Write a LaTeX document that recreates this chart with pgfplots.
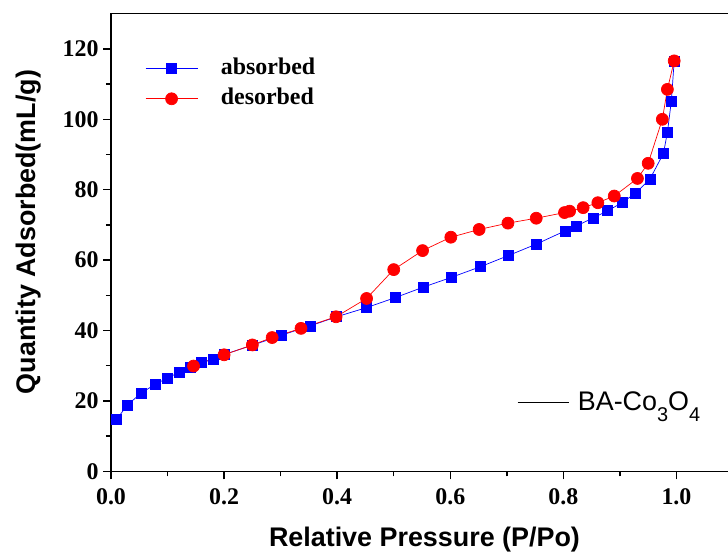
\documentclass[border=0pt]{standalone}
\usepackage{fontspec}
\setmainfont{Liberation Serif}
\newfontfamily\arial{Liberation Sans}
\usepackage{pgfplots}
\pgfplotsset{compat=1.18}

\pgfplotstableread{
x y
0.010 14.8
0.029 18.8
0.053 22.2
0.078 24.7
0.100 26.5
0.120 28.1
0.141 29.6
0.160 30.9
0.181 31.9
0.200 33.2
0.250 35.8
0.302 38.7
0.352 41.3
0.399 43.9
0.452 46.5
0.502 49.3
0.552 52.3
0.602 55.1
0.653 58.1
0.703 61.3
0.753 64.6
0.803 68.3
0.823 69.7
0.853 72.0
0.878 74.0
0.904 76.3
0.928 79.1
0.953 83.0
0.977 90.3
0.984 96.3
0.991 105.2
0.996 116.6
}\absorbed

\pgfplotstableread{
x y
0.146 29.9
0.200 33.1
0.250 35.9
0.285 38.0
0.336 40.6
0.398 43.9
0.452 49.1
0.500 57.3
0.551 62.7
0.601 66.5
0.651 68.7
0.702 70.5
0.752 71.9
0.802 73.5
0.811 73.9
0.835 74.9
0.861 76.3
0.890 78.2
0.931 83.2
0.950 87.5
0.975 100.0
0.984 108.5
0.996 116.6
}\desorbed

\begin{document}
\begin{tikzpicture}
\begin{axis}[
    name=ax,
    scale only axis,
    width=622bp, height=457.6bp,
    xmin=0, xmax=1.1,
    ymin=0, ymax=130,
    axis line style={line width=1.5bp},
    xtick={0,0.2,0.4,0.6,0.8,1.0},
    ytick={0,20,40,60,80,100,120},
    minor x tick num=1,
    minor y tick num=1,
    tick align=outside,
    xtick pos=lower, ytick pos=left,
    major tick length=8bp, minor tick length=5bp,
    every tick/.style={line width=1.5bp, black},
    tick label style={font=\fontsize{24}{24}\selectfont\bfseries},
    /pgf/number format/assume math mode=true,
    xticklabel style={yshift=-6bp, /pgf/number format/.cd, fixed, fixed zerofill, precision=1},
    yticklabel style={xshift=-1bp},
    xlabel={\arial\bfseries Relative Pressure (P/Po)},
    ylabel={\arial\bfseries Quantity Adsorbed(mL/g)},
    label style={font=\fontsize{27}{27}\selectfont},
    xlabel style={at={(axis description cs:0.504,-0.150)}, anchor=center},
    ylabel style={at={(axis description cs:-0.133,0.523)}, anchor=center},
    legend cell align=left,
    legend image code/.code={
        \draw[#1, mark repeat=2, mark phase=2] plot coordinates {(0bp,0bp) (26bp,0bp) (52bp,0bp)};
    },
    legend style={
        draw=none, fill=none, inner sep=0pt,
        at={(axis description cs:0.0547,0.903)}, anchor=north west,
        font=\fontsize{24}{24}\selectfont\bfseries,
        row sep=9bp,
        nodes={inner sep=0pt, text height=16bp, text depth=5bp},
        /tikz/every odd column/.append style={column sep=23bp},
    },
]
\addplot[blue, line width=0.7bp, mark=square*, mark size=5bp, mark options={solid, fill=blue, draw=blue}] table {\absorbed};
\addlegendentry{absorbed}
\addplot[red, line width=0.7bp, mark=*, mark size=6bp, mark options={solid, fill=red, draw=red}] table {\desorbed};
\addlegendentry{desorbed}
\end{axis}

\begin{axis}[
    at={(ax.south west)}, anchor=south west,
    scale only axis,
    width=622bp, height=457.6bp,
    xmin=0, xmax=1.1,
    ymin=0, ymax=130,
    hide axis,
    legend image code/.code={
        \draw[#1] (0bp,0bp) -- (51bp,0bp);
    },
    legend style={
        draw=none, fill=none, inner sep=0pt,
        at={(axis description cs:0.6527,0.1514)}, anchor=west,
        font=\fontsize{27}{27}\selectfont\arial,
        nodes={inner sep=0pt},
        /tikz/every odd column/.append style={column sep=9bp},
    },
]
\addlegendimage{black, line width=0.7bp}
\addlegendentry{BA-Co\raisebox{-11bp}{\fontsize{20}{20}\selectfont 3}O\raisebox{-11bp}{\fontsize{20}{20}\selectfont 4}}
\end{axis}

\pgfresetboundingbox
\useasboundingbox ([shift={(-111bp,-84.7bp)}]ax.south west) rectangle ([shift={(617bp,471.3bp)}]ax.south west);
\end{tikzpicture}
\end{document}
